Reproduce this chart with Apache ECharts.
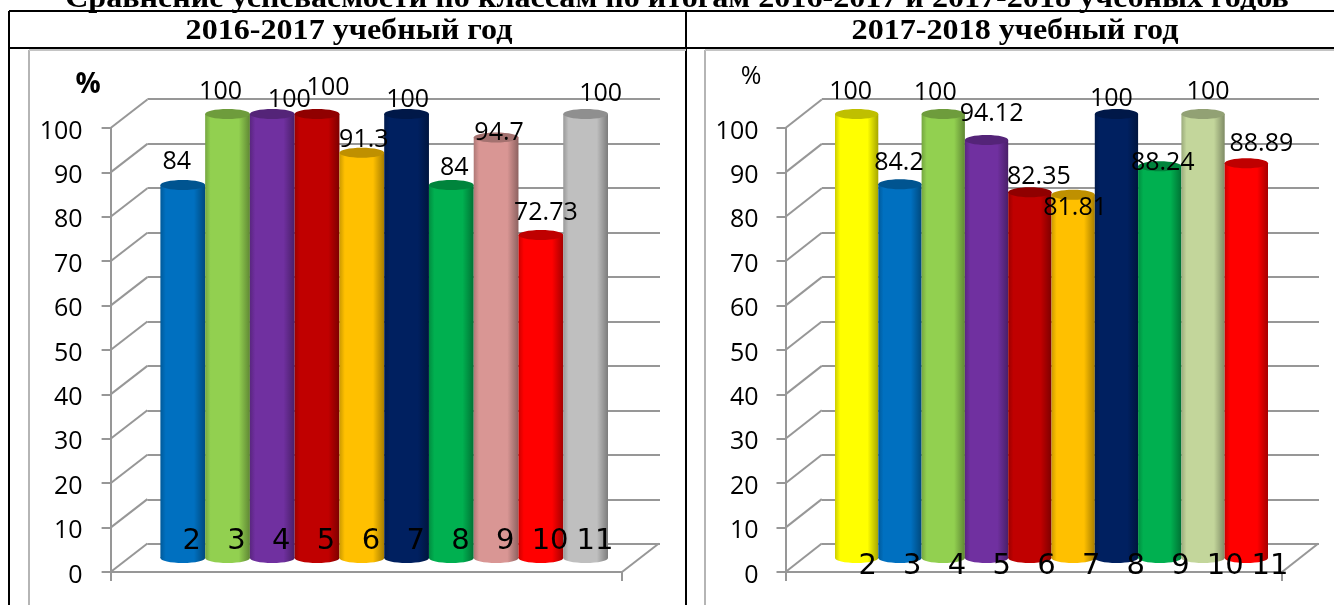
<!DOCTYPE html>
<html>
<head>
<meta charset="utf-8">
<style>
html,body{margin:0;padding:0;background:#fff;overflow:hidden}
#chart{width:1334px;height:605px}
</style>
<script src="https://cdn.jsdelivr.net/npm/echarts@6/dist/echarts.min.js"></script>
</head>
<body>
<div id="chart"></div>
<script>
var chartTitle = 'Сравнение успеваемости по классам по итогам 2016-2017 и 2017-2018 учебных годов';
var headerLeft = '2016-2017 учебный год';
var headerRight = '2017-2018 учебный год';
var unitLabel = '%';
var classes = ['2', '3', '4', '5', '6', '7', '8', '9', '10', '11'];
var yTicks = [0, 10, 20, 30, 40, 50, 60, 70, 80, 90, 100];
var values1617 = [84, 100, 100, 100, 91.3, 100, 84, 94.7, 72.73, 100];
var values1718 = [100, 84.2, 100, 94.12, 82.35, 81.81, 100, 88.24, 100, 88.89];
var colors1617 = ['#0070c0', '#92d050', '#7030a0', '#c00000', '#ffc000', '#002060', '#00b050', '#d99694', '#ff0000', '#bfbfbf'];
var colors1718 = ['#ffff00', '#0070c0', '#92d050', '#7030a0', '#c00000', '#ffc000', '#002060', '#00b050', '#c3d69b', '#ff0000'];
//подписи значений в оригинале сдвинуты вручную
var shift1617 = [[-6, -23], [-7, -22], [17, -14], [11, -26], [2, -13], [1, -14], [3, -17], [3, -5], [5, -22], [15, -20]];
var shift1718 = [[-6, -22], [-1, -21], [-8, -21], [5, -26], [9, -15], [2, 13], [-5, -15], [3, -3], [5, -22], [15, -19]];

var lineColor = '#979797';
var labelFont = '25px "Open Sans"';

var panels = [
    {values: values1617, colors: colors1617, shift: shift1617, frontLeft: 110.6, frontRight: 622, wallLeft: 147.4, wallRight: 660,
        barLeft: 160.4, barRight: 608, labelLeft: 169.3, labelWidth: 448, labelY: 540, axisMargin: 28},
    {values: values1718, colors: colors1718, shift: shift1718, frontLeft: 785.5, frontRight: 1282, wallLeft: 821.8, wallRight: 1319,
        barLeft: 835, barRight: 1268, labelLeft: 845.3, labelWidth: 447, labelY: 565, axisMargin: 27}
];

var grids = [], xAxes = [], yAxes = [], series = [];

function addGrid(left, width, top, height, xAxis, yAxis) {
    var idx = grids.length;
    grids.push({left: left, width: width, top: top, height: height, containLabel: false});
    xAxis.gridIndex = idx;
    yAxis.gridIndex = idx;
    xAxes.push(xAxis);
    yAxes.push(yAxis);
    return idx;
}

function darken(c, k) {
    return echarts.color.lerp(k, [c, '#000']);
}

//цилиндр: тело, нижний и верхний эллипс
function renderCylinder(colors) {
    return function (params, api) {
        var top = api.coord([api.value(0), api.value(1)]);
        var base = api.coord([api.value(0), 0]);
        var w = api.size([1, 0])[0];
        var c = colors[params.dataIndex];
        var fill = new echarts.graphic.LinearGradient(0, 0, 1, 0, [
            {offset: 0, color: darken(c, 0.2)},
            {offset: 0.12, color: c},
            {offset: 0.75, color: c},
            {offset: 1, color: darken(c, 0.35)}
        ]);
        return {
            type: 'group',
            children: [
                {type: 'ellipse', shape: {cx: base[0], cy: base[1], rx: w / 2, ry: 5}, style: {fill: fill}},
                {type: 'rect', shape: {x: top[0] - w / 2, y: top[1], width: w, height: base[1] - top[1]}, style: {fill: fill}},
                {type: 'ellipse', shape: {cx: top[0], cy: top[1], rx: w / 2, ry: 5}, style: {fill: darken(c, 0.25)}}
            ]
        };
    };
}

function renderValueLabel(shift) {
    return function (params, api) {
        var p = api.coord([api.value(0), api.value(1)]);
        var s = shift[params.dataIndex];
        return {
            type: 'text',
            style: {
                x: p[0] + s[0], y: p[1] + s[1], text: String(api.value(1)),
                font: labelFont, fill: '#000', align: 'center', verticalAlign: 'middle'
            }
        };
    };
}

panels.forEach(function (p) {
    //задняя стенка с линиями сетки
    addGrid(p.wallLeft, p.wallRight - p.wallLeft, 99, 445,
        {type: 'value', min: 0, max: 1, show: false},
        {type: 'value', min: 0, max: 100, interval: 10, axisLine: {show: false}, axisTick: {show: false}, axisLabel: {show: false},
            splitLine: {show: true, lineStyle: {color: lineColor, width: 2}}});

    //передняя ось
    var front = addGrid(p.frontLeft, p.frontRight - p.frontLeft, 128, 444,
        {type: 'value', min: 0, max: 1, interval: 1, axisLabel: {show: false}, splitLine: {show: false},
            axisLine: {show: true, lineStyle: {color: lineColor, width: 2}},
            axisTick: {show: true, length: 9, lineStyle: {color: lineColor, width: 2}}},
        {type: 'value', min: 0, max: 100, interval: 10, splitLine: {show: false}, axisLabel: {show: false},
            axisLine: {show: true, lineStyle: {color: lineColor, width: 2}},
            axisTick: {show: true, length: 9, lineStyle: {color: lineColor, width: 2}}});

    //подписи оси чуть ниже засечек
    addGrid(p.frontLeft, p.frontRight - p.frontLeft, 131.5, 444,
        {type: 'value', min: 0, max: 1, show: false},
        {type: 'value', min: 0, max: 100, interval: 10, splitLine: {show: false}, axisLine: {show: false}, axisTick: {show: false},
            axisLabel: {margin: p.axisMargin, color: '#000', fontFamily: 'Open Sans', fontSize: 25}});

    var dx = p.wallLeft - p.frontLeft;
    series.push({
        type: 'custom', xAxisIndex: front, yAxisIndex: front, silent: true, z: 1,
        data: yTicks.map(function (t) { return [0, t]; }).concat([[1, 0]]),
        renderItem: function (params, api) {
            var a = api.coord([api.value(0), api.value(1)]);
            return {type: 'line', shape: {x1: a[0], y1: a[1], x2: a[0] + dx, y2: a[1] - 28.5}, style: {stroke: lineColor, lineWidth: 2}};
        }
    });

    //цилиндры
    var bars = addGrid(p.barLeft, p.barRight - p.barLeft, 114, 444,
        {type: 'category', data: classes, show: false},
        {type: 'value', min: 0, max: 100, show: false});
    var rows = p.values.map(function (v, i) { return [i, v]; });
    series.push({type: 'custom', xAxisIndex: bars, yAxisIndex: bars, silent: true, z: 3, data: rows, renderItem: renderCylinder(p.colors)});
    series.push({type: 'custom', xAxisIndex: bars, yAxisIndex: bars, silent: true, z: 6, data: rows, renderItem: renderValueLabel(p.shift)});

    //номера классов
    addGrid(p.labelLeft, p.labelWidth, p.labelY - 14, 1,
        {type: 'category', data: classes, z: 8, axisLine: {show: false}, axisTick: {show: false},
            axisLabel: {interval: 0, margin: 0, color: '#000', fontFamily: 'DejaVu Sans', fontSize: 29}},
        {type: 'value', show: false});
});

function frameLine(x1, y1, x2, y2, color) {
    return {type: 'line', silent: true, z: 20, shape: {x1: x1, y1: y1, x2: x2, y2: y2}, style: {stroke: color, lineWidth: 2}};
}
function heading(text, x, y) {
    return {type: 'text', z: 21, x: x, y: y, scaleX: 1.07, style: {text: text, font: 'bold 30px "Liberation Serif"', fill: '#000', align: 'center', verticalAlign: 'middle'}};
}
function unit(x, y, font) {
    return {type: 'text', z: 21, x: x, y: y, style: {text: unitLabel, font: font, fill: '#000', align: 'center', verticalAlign: 'middle'}};
}

var chart = echarts.init(document.getElementById('chart'), null, {renderer: 'canvas'});
chart.setOption({
    animation: false,
    backgroundColor: '#fff',
    grid: grids,
    xAxis: xAxes,
    yAxis: yAxes,
    series: series,
    graphic: [
        frameLine(9, 11, 1334, 11, '#000'),
        frameLine(9, 48, 1334, 48, '#000'),
        frameLine(9, 11, 9, 605, '#000'),
        frameLine(686, 11, 686, 605, '#000'),
        frameLine(29, 50, 29, 605, '#b5b5b5'),
        frameLine(705, 50, 705, 605, '#b5b5b5'),
        frameLine(29, 50, 686, 50, '#c4c4c4'),
        frameLine(705, 50, 1334, 50, '#c4c4c4'),
        heading(chartTitle, 677, -1),
        heading(headerLeft, 349, 31),
        heading(headerRight, 1015, 31),
        unit(88, 85, 'bold 28px "Open Sans"'),
        unit(751, 77, '25px "Open Sans"')
    ]
});
</script>
</body>
</html>
